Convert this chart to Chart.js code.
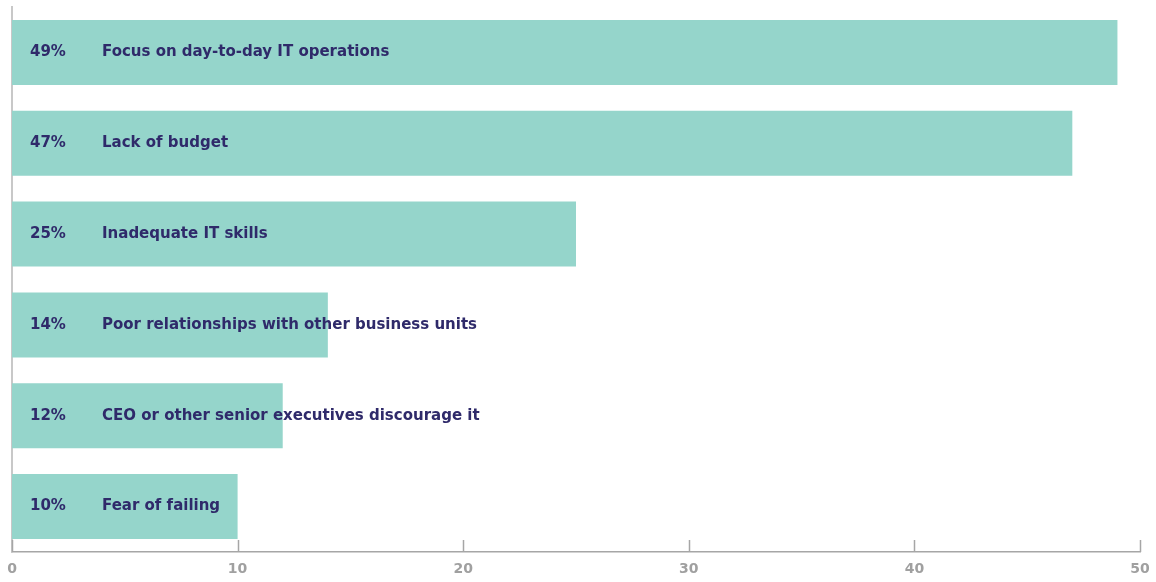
<!DOCTYPE html>
<html>
<head>
<meta charset="utf-8">
<script src="https://cdn.jsdelivr.net/npm/chart.js@4"></script>
<style>
  html, body { margin: 0; padding: 0; background: #fff; }
  #wrap { width: 1156px; height: 582px; }
</style>
</head>
<body>
<div id="wrap"><canvas id="barriers"></canvas></div>
<script>
// Barriers to innovation, share of respondents (%)
const barriers = [
    'Focus on day-to-day IT operations',
    'Lack of budget',
    'Inadequate IT skills',
    'Poor relationships with other business units',
    'CEO or other senior executives discourage it',
    'Fear of failing'
];
const shares = [49, 47, 25, 14, 12, 10];
const axisTicks = [0, 10, 20, 30, 40, 50];

const barColor = '#95d5cb';
const textColor = '#2f2a6a';
const axisColor = '#a6a6a6';

// Writes the percentage and the barrier name on top of each bar
const barLabels = {
    id: 'barLabels',
    afterDatasetsDraw(chart) {
        const ctx = chart.ctx;
        const meta = chart.getDatasetMeta(0);
        const left = chart.chartArea.left;
        ctx.save();
        ctx.fillStyle = textColor;
        ctx.font = 'bold 15px "DejaVu Sans"';
        ctx.textBaseline = 'middle';
        ctx.textAlign = 'left';
        meta.data.forEach((bar, i) => {
            ctx.fillText(shares[i] + '%', left + 18, bar.y);
            ctx.fillText(barriers[i], left + 90, bar.y);
        });
        ctx.restore();
    }
};

// Short upward tick marks on the value axis
const upTicks = {
    id: 'upTicks',
    afterDraw(chart) {
        const ctx = chart.ctx;
        const x = chart.scales.x;
        const bottom = chart.chartArea.bottom;
        ctx.save();
        ctx.strokeStyle = axisColor;
        ctx.lineWidth = 1.5;
        axisTicks.forEach(v => {
            const px = Math.round(x.getPixelForValue(v)) + 0.5;
            ctx.beginPath();
            ctx.moveTo(px, bottom);
            ctx.lineTo(px, bottom - 12);
            ctx.stroke();
        });
        ctx.restore();
    }
};

new Chart(document.getElementById('barriers'), {
    type: 'bar',
    data: {
        labels: barriers,
        datasets: [{
            data: shares,
            backgroundColor: barColor,
            borderWidth: 0,
            barPercentage: 0.9,
            categoryPercentage: 0.795
        }]
    },
    options: {
        indexAxis: 'y',
        responsive: true,
        maintainAspectRatio: false,
        animation: false,
        layout: { padding: { left: 12, right: 16, top: 7, bottom: 0 } },
        plugins: {
            legend: { display: false },
            tooltip: { enabled: false }
        },
        scales: {
            x: {
                min: 0,
                max: 50,
                afterFit(scale) {
                    scale.height = 30;
                    scale.paddingLeft = 0;
                    scale.paddingRight = 0;
                },
                afterBuildTicks(scale) { scale.ticks = axisTicks.map(v => ({ value: v })); },
                grid: { display: false, drawTicks: false },
                border: { display: true, color: axisColor, width: 1.5 },
                ticks: {
                    padding: 9,
                    color: '#a0a0a0',
                    font: { family: '"DejaVu Sans"', size: 14, weight: 'bold' }
                }
            },
            y: {
                afterFit(scale) { scale.width = 0; },
                grid: { display: false, drawTicks: false },
                border: { display: true, color: '#c8c8c8', width: 2 },
                ticks: { display: false }
            }
        }
    },
    plugins: [barLabels, upTicks]
});
</script>
</body>
</html>
